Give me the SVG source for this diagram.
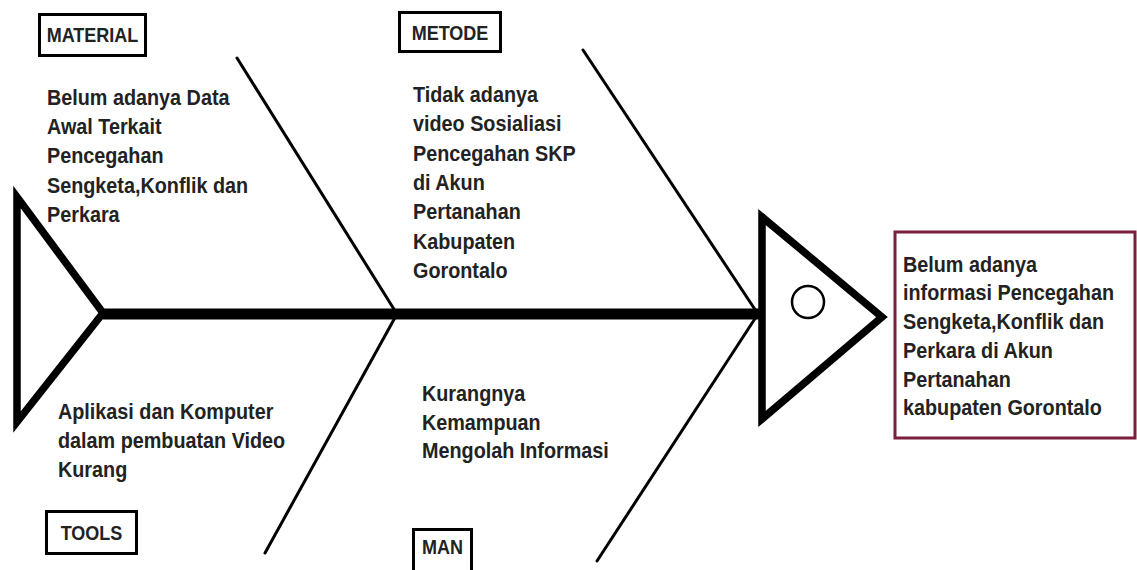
<svg xmlns="http://www.w3.org/2000/svg" width="1137" height="570" viewBox="0 0 1137 570">
<style>
.body{font-family:"Liberation Sans",Arial,sans-serif;font-weight:bold;font-size:22px;fill:#222}
.lbl{font-family:"Liberation Sans",Arial,sans-serif;font-weight:bold;font-size:20px;fill:#222;text-anchor:middle}
.box{fill:#fff;stroke:#000;stroke-width:3}
.bone{fill:none;stroke:#000;stroke-width:3;stroke-linecap:round}
.fish{fill:#fff;stroke:#000;stroke-width:7.5}
</style>
<rect width="1137" height="570" fill="#fff"/>
<g id="connectors">
<line class="bone" x1="237" y1="58" x2="397" y2="314"/>
<line class="bone" x1="397" y1="314" x2="265" y2="553"/>
<line class="bone" x1="583" y1="50" x2="758" y2="314"/>
<line class="bone" x1="758" y1="314" x2="597" y2="561"/>
<line x1="103" y1="314" x2="760" y2="314" stroke="#000" stroke-width="11"/>
</g>
<g id="tail">
<polygon class="fish" points="17,197 103,313 17,422"/>
</g>
<g id="head">
<polygon class="fish" points="762,217 882,317 762,419"/>
<circle cx="808" cy="302" r="16" fill="none" stroke="#000" stroke-width="2.5"/>
</g>
<g id="effect">
<rect x="895" y="232" width="240" height="206" fill="#fff" stroke="#7a1f3d" stroke-width="3"/>
<text class="body" transform="matrix(0.9 0 0 1 903 0)"><tspan x="0" y="272">Belum adanya</tspan><tspan x="0" y="300">informasi Pencegahan</tspan><tspan x="0" y="329">Sengketa,Konflik dan</tspan><tspan x="0" y="358">Perkara di Akun</tspan><tspan x="0" y="387">Pertanahan</tspan><tspan x="0" y="415">kabupaten Gorontalo</tspan></text>
</g>
<g id="material">
<rect class="box" x="39.5" y="14.5" width="106" height="41"/>
<text class="lbl" transform="matrix(0.9 0 0 1 92.5 0)" x="0" y="42">MATERIAL</text>
<text class="body" transform="matrix(0.9 0 0 1 47 0)"><tspan x="0" y="105">Belum adanya Data</tspan><tspan x="0" y="134">Awal Terkait</tspan><tspan x="0" y="163">Pencegahan</tspan><tspan x="0" y="193">Sengketa,Konflik dan</tspan><tspan x="0" y="222">Perkara</tspan></text>
</g>
<g id="metode">
<rect class="box" x="399.5" y="12.5" width="101" height="39"/>
<text class="lbl" transform="matrix(0.9 0 0 1 450 0)" x="0" y="40">METODE</text>
<text class="body" transform="matrix(0.9 0 0 1 413 0)"><tspan x="0" y="102">Tidak adanya</tspan><tspan x="0" y="131">video Sosialiasi</tspan><tspan x="0" y="161">Pencegahan SKP</tspan><tspan x="0" y="190">di Akun</tspan><tspan x="0" y="219">Pertanahan</tspan><tspan x="0" y="249">Kabupaten</tspan><tspan x="0" y="278">Gorontalo</tspan></text>
</g>
<g id="tools">
<rect class="box" x="46.5" y="511.5" width="90" height="42"/>
<text class="lbl" transform="matrix(0.9 0 0 1 91.5 0)" x="0" y="540">TOOLS</text>
<text class="body" transform="matrix(0.9 0 0 1 58 0)"><tspan x="0" y="419">Aplikasi dan Komputer</tspan><tspan x="0" y="448">dalam pembuatan Video</tspan><tspan x="0" y="477">Kurang</tspan></text>
</g>
<g id="man">
<rect class="box" x="413.5" y="529.5" width="58" height="50"/>
<text class="lbl" transform="matrix(0.9 0 0 1 442.5 0)" x="0" y="554">MAN</text>
<text class="body" transform="matrix(0.9 0 0 1 422 0)"><tspan x="0" y="401">Kurangnya</tspan><tspan x="0" y="430">Kemampuan</tspan><tspan x="0" y="458">Mengolah Informasi</tspan></text>
</g>
</svg>
